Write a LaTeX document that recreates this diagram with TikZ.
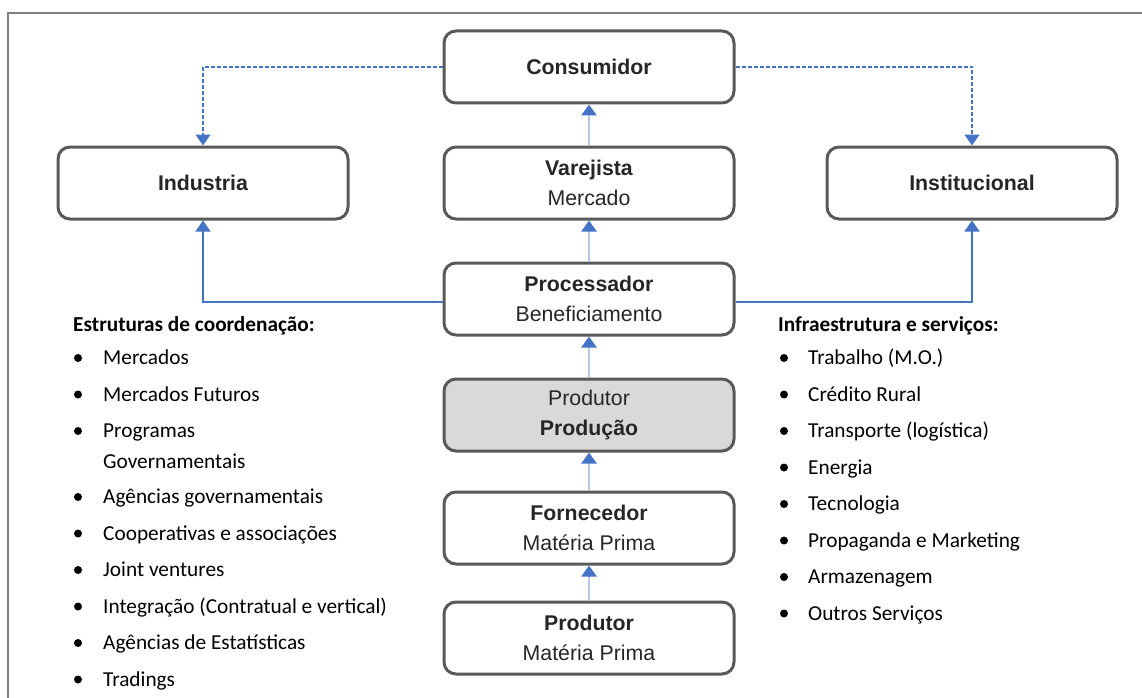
\documentclass[tikz,border=0pt]{standalone}
\usepackage{fontspec}
\newfontfamily\boxfont{Liberation Sans}
\newfontfamily\listfont{Carlito}
\usetikzlibrary{arrows.meta}
\definecolor{boxline}{HTML}{595959}
\definecolor{arrowblue}{HTML}{4472C4}
\definecolor{lightblue}{HTML}{B4C7E7}
\definecolor{boxgray}{HTML}{D9D9D9}
\definecolor{framegray}{HTML}{808080}
\tikzset{
  chainbox/.style={draw=boxline, line width=3pt, rounded corners=12pt, fill=white,
    minimum width=290pt, minimum height=72pt, inner sep=0pt, align=center,
    font=\boxfont\fontsize{21.3}{30}\selectfont, text=black!85},
  flowarrow/.style={draw=lightblue, line width=2.5pt,
    -{Triangle[width=15pt,length=11pt,color=arrowblue]}},
  linkarrow/.style={draw=arrowblue, line width=1.2pt, -{Triangle[width=15pt,length=11pt]}},
  dasharrow/.style={linkarrow, dashed, dash pattern=on 4pt off 2pt},
  listhead/.style={anchor=west, inner sep=0pt, text height=13.5pt, text depth=0pt,
    font=\listfont\bfseries\fontsize{21.3}{25}\selectfont},
  listitem/.style={anchor=west, inner sep=0pt, text height=13.5pt, text depth=0pt,
    font=\listfont\fontsize{21.3}{25}\selectfont},
  bulletdot/.style={circle, fill=black, inner sep=0pt, minimum size=8pt}
}
\begin{document}
\begin{tikzpicture}[x=1pt,y=-1pt]
  \useasboundingbox (0,0) rectangle (1142,698);
  \draw[framegray, line width=2pt] (8,698) -- (8,13) -- (1142,13);

  \node[chainbox] (consumidor) at (589,67) {\bfseries Consumidor};
  \node[chainbox] (industria) at (203,183) {\bfseries Industria};
  \node[chainbox] (varejista) at (589,183) {\bfseries Varejista\\Mercado};
  \node[chainbox] (institucional) at (972,183) {\bfseries Institucional};
  \node[chainbox] (processador) at (589,299) {\bfseries Processador\\Beneficiamento};
  \node[chainbox, fill=boxgray] (producao) at (589,415) {Produtor\\\bfseries Produção};
  \node[chainbox] (fornecedor) at (589,528) {\bfseries Fornecedor\\Matéria Prima};
  \node[chainbox] (produtor) at (589,638) {\bfseries Produtor\\Matéria Prima};

  \draw[flowarrow] (produtor) -- (fornecedor);
  \draw[flowarrow] (fornecedor) -- (producao);
  \draw[flowarrow] (producao) -- (processador);
  \draw[flowarrow] (processador) -- (varejista);
  \draw[flowarrow] (varejista) -- (consumidor);

  \draw[dasharrow] (consumidor.west) -| (industria.north);
  \draw[dasharrow] (consumidor.east) -| (institucional.north);
  \draw[linkarrow] ([yshift=-3pt]processador.west) -| (industria.south);
  \draw[linkarrow] ([yshift=-3pt]processador.east) -| (institucional.south);

  \node[listhead] (coordhead) at (73,325) {Estruturas de coordenação:};
  \foreach \y/\txt [count=\i] in {358/Mercados, 394.5/Mercados Futuros, 431/Programas,
      497/Agências governamentais, 533.5/Cooperativas e associações, 570/Joint ventures,
      606.5/Integração (Contratual e vertical), 643/Agências de Estatísticas, 679.5/Tradings} {
    \node[bulletdot] (cb\i) at (78,\y) {};
    \node[listitem] (ct\i) at (103,\y) {\txt};
  }
  \node[listitem] (ctwrap) at (103,462) {Governamentais};

  \node[listhead] (infrahead) at (778,325) {Infraestrutura e serviços:};
  \foreach \y/\txt [count=\i] in {358/Trabalho (M.O.), 394.5/Crédito Rural,
      431/Transporte (logística), 467.5/Energia, 504/Tecnologia,
      540.5/Propaganda e Marketing, 577/Armazenagem, 613.5/Outros Serviços} {
    \node[bulletdot] (ib\i) at (784,\y) {};
    \node[listitem] (it\i) at (808,\y) {\txt};
  }
\end{tikzpicture}
\end{document}
